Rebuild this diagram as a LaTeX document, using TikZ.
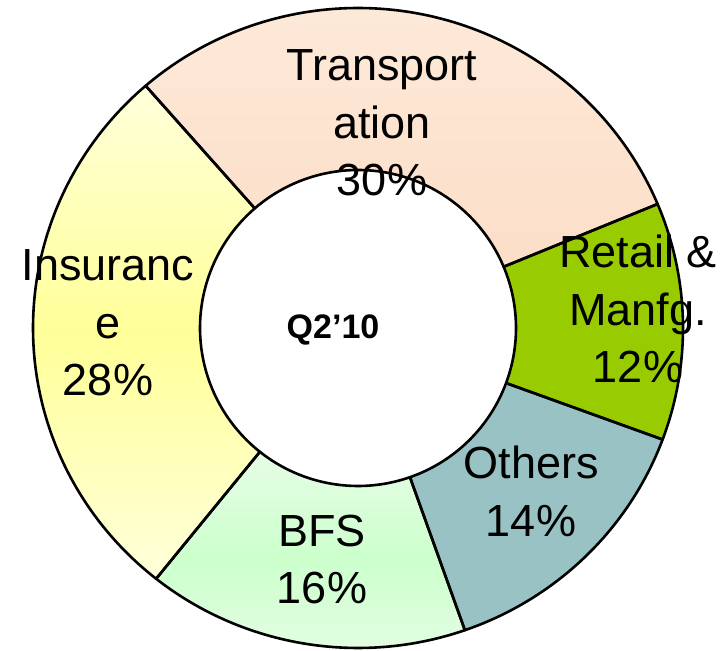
\documentclass[tikz,border=0pt]{standalone}
\usepackage{fontspec}
\setmainfont{Liberation Sans}
\usepackage{tikz}
\definecolor{transfill}{RGB}{253,234,218}
\definecolor{transdeep}{RGB}{252,222,200}
\definecolor{retailfill}{RGB}{153,204,0}
\definecolor{othersfill}{RGB}{153,194,196}
\definecolor{bfsedge}{RGB}{230,253,230}
\definecolor{bfsmid}{RGB}{204,255,204}
\definecolor{insedge}{RGB}{255,255,218}
\definecolor{insmid}{RGB}{255,255,153}

% one slice of the ring, from angle #1 down to angle #2
\newcommand{\ringslice}[2]{%
  (#1:325pt and 320pt) arc[start angle=#1, end angle=#2, x radius=325pt, y radius=320pt]
  -- (#2:158pt) arc[start angle=#2, end angle=#1, radius=158pt] -- cycle}

\begin{document}
\begin{tikzpicture}[
  x=1pt, y=1pt,
  edge/.style={draw=black, line width=2.6pt, line join=round},
  lbl/.style={align=center, inner sep=0pt, outer sep=0pt, anchor=north,
              font=\fontsize{45}{57.5}\selectfont},
]
\useasboundingbox (0,0) rectangle (727,650);

% ===================== ring slices (clockwise from 130.8 deg) =====================
\begin{scope}[shift={(358,322)}]
  \shade[top color=transfill, bottom color=transdeep] \ringslice{130.8}{22.8};
  \fill[retailfill] \ringslice{22.8}{-20.4};
  \fill[othersfill] \ringslice{-20.4}{-70.8};
  \shade[top color=bfsedge, bottom color=bfsedge, middle color=bfsmid] \ringslice{-70.8}{-128.4};
  \shade[top color=insedge, bottom color=insedge, middle color=insmid] \ringslice{-128.4}{-229.2};

  \path[edge] \ringslice{130.8}{22.8};
  \path[edge] \ringslice{22.8}{-20.4};
  \path[edge] \ringslice{-20.4}{-70.8};
  \path[edge] \ringslice{-70.8}{-128.4};
  \path[edge] \ringslice{-128.4}{-229.2};
\end{scope}

% ===================== labels =====================
\node[lbl] (trans)  at (382,600) {Transport\\ation\\30\%};
\node[lbl] (retail) at (638,415) {Retail \&\\Manfg.\\12\%};
\node[lbl] (others) at (531,204) {Others\\14\%};
\node[lbl] (bfs)    at (322,135) {BFS\\16\%};
\node[lbl] (ins)    at (108,400) {Insuranc\\e\\28\%};

\node[anchor=base, inner sep=0pt, font=\fontsize{34}{40}\selectfont\bfseries]
  (quarter) at (333,311) {Q2’10};

\end{tikzpicture}
\end{document}
